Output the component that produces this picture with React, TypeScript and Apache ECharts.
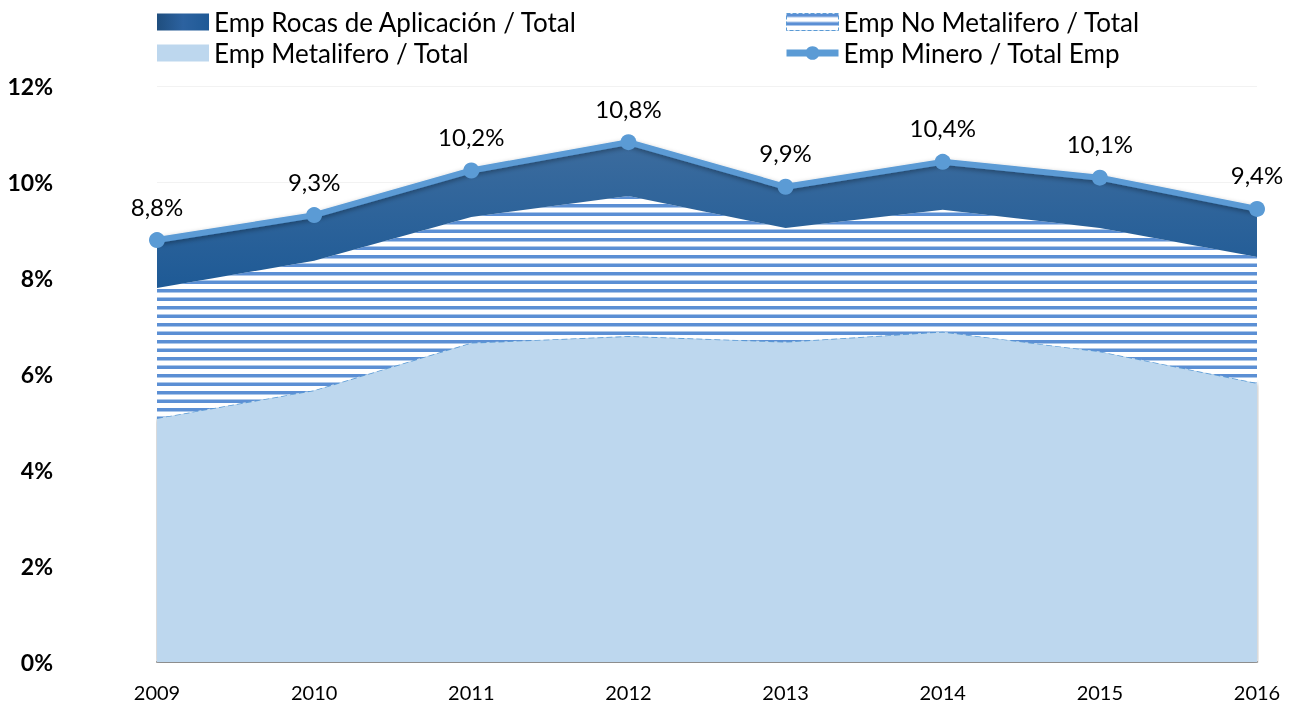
import React, { useEffect, useRef } from 'react';
import * as echarts from 'echarts';

const years = ['2009', '2010', '2011', '2012', '2013', '2014', '2015', '2016'];
const metalifero = [5.08, 5.66, 6.65, 6.79, 6.67, 6.88, 6.47, 5.81];
const noMetalifero = [2.71, 2.70, 2.62, 2.92, 2.37, 2.54, 2.57, 2.63];
const rocas = [1.0, 0.95, 0.97, 1.12, 0.86, 1.0, 1.05, 1.0];
const minero = [8.79, 9.31, 10.24, 10.83, 9.9, 10.42, 10.09, 9.44];

const NAME_ROCAS = 'Emp Rocas de Aplicación / Total';
const NAME_METAL = 'Emp Metalifero / Total';
const NAME_NOMETAL = 'Emp No Metalifero / Total';
const NAME_MINERO = 'Emp Minero / Total Emp';

const FONT = 'Lato, "Open Sans", sans-serif';

export default function App() {
  const ref = useRef<HTMLDivElement>(null);
  useEffect(() => {
    const el = ref.current!;
    const chart = echarts.init(el, null, { renderer: 'svg' });

    const c = document.createElement('canvas');
    c.width = 8;
    c.height = 17;
    const ctx = c.getContext('2d')!;
    ctx.fillStyle = '#ffffff';
    ctx.fillRect(0, 0, 8, 17);
    ctx.fillStyle = '#5B8FD4';
    ctx.fillRect(0, 0, 8, 3.5);
    ctx.fillRect(0, 8.5, 8, 3.5);
    const stripe: any = { image: c, repeat: 'repeat' };

    const rocasGrad = new echarts.graphic.LinearGradient(0, 0, 0, 1, [
      { offset: 0, color: '#3C6C9E' },
      { offset: 1, color: '#1E5A96' },
    ]);
    const rocasLegendGrad = new echarts.graphic.LinearGradient(0, 0, 1, 0, [
      { offset: 0, color: '#1F4E7E' },
      { offset: 0.5, color: '#2C62A0' },
      { offset: 1, color: '#1F5A96' },
    ]);

    const legendCommon = {
      orient: 'vertical',
      top: 4,
      itemWidth: 52,
      itemHeight: 17,
      itemGap: 5,
      textStyle: { fontSize: 26, lineHeight: 26, fontFamily: FONT, color: '#000' },
    };

    chart.setOption({
      animation: false,
      legend: [
        {
          ...legendCommon,
          left: 152,
          data: [
            { name: NAME_ROCAS, icon: 'rect', itemStyle: { color: rocasLegendGrad } },
            { name: NAME_METAL, icon: 'rect', itemStyle: { color: '#BDD7EE' } },
          ],
        },
        {
          ...legendCommon,
          left: 778,
          data: [
            {
              name: NAME_NOMETAL,
              icon: 'rect',
              itemStyle: { color: stripe, borderColor: '#5B9BD5', borderWidth: 1, borderType: 'dashed' },
            },
            { name: NAME_MINERO, lineStyle: { width: 7, color: '#5B9BD5' } },
          ],
        },
      ],
      grid: { left: 157, right: 35, top: 86, bottom: 42 },
      xAxis: {
        type: 'category',
        data: years,
        boundaryGap: false,
        axisLine: { lineStyle: { color: '#A6A6A6', width: 2 } },
        axisTick: { show: false },
        axisLabel: { fontSize: 20, fontFamily: FONT, color: '#000', margin: 20 },
      },
      yAxis: {
        type: 'value',
        min: 0,
        max: 12,
        interval: 2,
        axisLine: { show: false },
        axisTick: { show: false },
        splitLine: { lineStyle: { color: '#F2F2F2', width: 1 } },
        axisLabel: {
          formatter: (v: number) => `${v}%`,
          fontSize: 23,
          fontWeight: 'bold',
          fontFamily: FONT,
          color: '#000',
          margin: 104,
        },
      },
      series: [
        {
          name: NAME_METAL,
          type: 'line',
          stack: 'a',
          data: metalifero,
          showSymbol: false,
          itemStyle: { color: '#BDD7EE' },
          lineStyle: { color: '#5B9BD5', width: 1.5, type: 'dashed' },
          areaStyle: {
            color: '#BDD7EE',
            opacity: 1,
            shadowColor: 'rgba(0,0,0,0.35)',
            shadowBlur: 4,
            shadowOffsetY: 1,
          },
          z: 2,
        },
        {
          name: NAME_NOMETAL,
          type: 'line',
          stack: 'a',
          data: noMetalifero,
          showSymbol: false,
          itemStyle: { color: '#5B8FD4' },
          lineStyle: { width: 0 },
          areaStyle: { color: stripe, opacity: 1 },
          z: 3,
        },
        {
          name: NAME_ROCAS,
          type: 'line',
          stack: 'a',
          data: rocas,
          showSymbol: false,
          itemStyle: { color: '#1F5A96' },
          lineStyle: { width: 0 },
          areaStyle: { color: rocasGrad, opacity: 1 },
          z: 4,
        },
        {
          name: NAME_MINERO,
          type: 'line',
          data: minero,
          symbol: 'circle',
          symbolSize: 16,
          itemStyle: { color: '#5B9BD5' },
          lineStyle: {
            color: '#5B9BD5',
            width: 6,
            shadowColor: 'rgba(0,0,0,0.35)',
            shadowBlur: 5,
            shadowOffsetY: 2,
          },
          label: {
            show: true,
            position: 'top',
            distance: 14,
            fontSize: 24,
            fontFamily: FONT,
            color: '#000',
            formatter: (p: any) => `${Number(p.value).toFixed(1).replace('.', ',')}%`,
          },
          z: 10,
        },
      ],
    });

    return () => chart.dispose();
  }, []);
  return <div ref={ref} style={{ position: 'fixed', left: 0, top: 0, width: 1292, height: 704 }} />;
}
